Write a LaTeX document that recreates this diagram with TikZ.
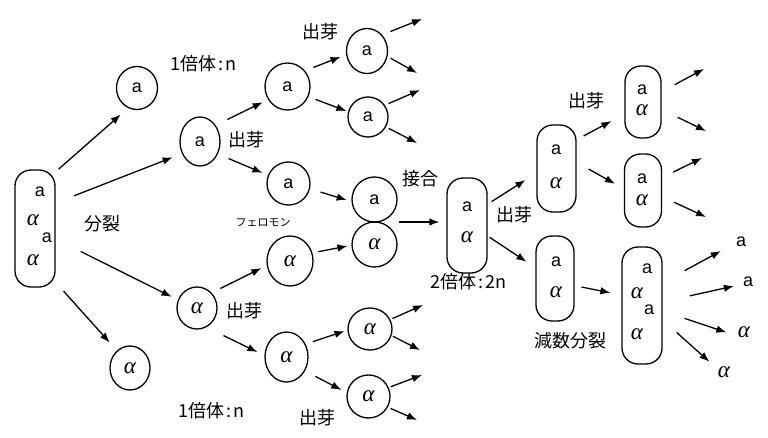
\documentclass[tikz,border=0pt]{standalone}
\usepackage{fontspec}
\setmainfont{Liberation Sans}
\newfontfamily\jp{Noto Sans CJK JP}
\newfontfamily\grk{Liberation Serif}
\newcommand{\alf}{{\grk\itshape\fontsize{23}{24}\selectfont α}}
\usetikzlibrary{arrows.meta,shapes.geometric,fit}
\begin{document}
\begin{tikzpicture}[x=1pt,y=-1pt,
  circ/.style={ellipse, draw, line width=1.3pt, inner sep=0pt, font=\fontsize{18}{20}\selectfont},
  pill/.style={rectangle, draw, line width=1.3pt, rounded corners=16pt, inner sep=0pt},
  sz/.style 2 args={minimum width=#1pt, minimum height=#2pt},
  lab/.style={inner sep=0pt, font=\jp\fontsize{18}{20}\selectfont},
  smalllab/.style={inner sep=0pt, font=\jp\fontsize{11}{12}\selectfont},
  ch/.style={inner sep=0pt, font=\fontsize{18}{20}\selectfont},
  arr/.style={-{Latex[length=10pt,width=7.5pt]}, line width=1.3pt},
]
\fill[white] (0,0) rectangle (768,438);
\useasboundingbox (0,0) rectangle (768,438);

% pills
\node[pill, sz={40}{117}] (L) at (35,228.5) {};
\node[ch] (L1) at (40,192) {a};
\node[ch] (L2) at (33,220.5) {\alf};
\node[ch] (L3) at (47,237.5) {a};
\node[ch] (L4) at (33,260) {\alf};

\node[pill, sz={40}{95}] (P2) at (467,225.5) {};
\node[ch] (P2a) at (467,207) {a};
\node[ch] (P2b) at (467,237) {\alf};

\node[pill, sz={39}{87}] (P3) at (556.5,168.5) {};
\node[ch] (P3a) at (556,150) {a};
\node[ch] (P3b) at (556,183) {\alf};

\node[pill, sz={38}{85}] (P4) at (555,278.5) {};
\node[ch] (P4a) at (556,262) {a};
\node[ch] (P4b) at (556,292) {\alf};

\node[pill, sz={36}{72}] (P5) at (643,102) {};
\node[ch] (P5a) at (642,89.5) {a};
\node[ch] (P5b) at (642,110.5) {\alf};

\node[pill, sz={37}{73}] (P6) at (643,190.5) {};
\node[ch] (P6a) at (642,179) {a};
\node[ch] (P6b) at (642,200) {\alf};

\node[pill, sz={40}{117}] (P7) at (642,305.5) {};
\node[ch] (P7a) at (647,269) {a};
\node[ch] (P7b) at (637,293) {\alf};
\node[ch] (P7c) at (649,310) {a};
\node[ch] (P7d) at (637,334) {\alf};

% circles
\node[circ, sz={41}{43}] (A1) at (137,88) {a};
\node[circ, sz={40}{49}] (A2) at (200,141.5) {a};
\node[circ, sz={45}{47}] (A3) at (287.5,86.5) {a};
\node[circ, sz={41}{45}] (A4) at (367,51) {a};
\node[circ, sz={40}{40}] (A5) at (368,117) {a};
\node[circ, sz={43}{43}] (A6) at (288.5,183.5) {a};
\node[circ, sz={45}{45}] (F1) at (374.5,199.5) {a};
\node[circ, sz={45}{45}] (F2) at (374.5,244.5) {\alf};
\node[circ, sz={40}{44}] (B1) at (130,368) {\alf};
\node[circ, sz={40}{42}] (B2) at (197,308) {\alf};
\node[circ, sz={46}{50}] (B3) at (290,261) {\alf};
\node[circ, sz={43}{50}] (B4) at (286.5,357) {\alf};
\node[circ, sz={44}{42}] (B5) at (370,329) {\alf};
\node[circ, sz={43}{43}] (B6) at (368.5,396.5) {\alf};
\node[fit=(F1)(F2), inner sep=0pt] (FP) {};

% output labels
\node[ch] (o1) at (741,242) {a};
\node[ch] (o2) at (748,282) {a};
\node[ch] (o3) at (744,332) {\alf};
\node[ch] (o4) at (724,372) {\alf};

% text labels
\node[lab] (T1) at (203,64) {1倍体\kern2pt:\kern2pt n};
\node[lab] (T2) at (320,32) {出芽};
\node[lab] (T3) at (246,139.5) {出芽};
\node[lab] (T4) at (102,224) {分裂};
\node[smalllab] (T5) at (263,223) {フェロモン};
\node[lab] (T6) at (420,179) {接合};
\node[lab] (T7) at (468,282) {2倍体\kern2pt:\kern2pt 2n};
\node[lab] (T8) at (514,214.5) {出芽};
\node[lab] (T9) at (586,101) {出芽};
\node[lab] (T10) at (570,341) {減数分裂};
\node[lab] (T11) at (244,311) {出芽};
\node[lab] (T12) at (211,411) {1倍体\kern2pt:\kern2pt n};
\node[lab] (T13) at (317,418) {出芽};

% free ends
\coordinate (e1) at (422,19);
\coordinate (e2) at (417,73);
\coordinate (e3) at (420,90);
\coordinate (e4) at (417,143);
\coordinate (e5) at (704,69);
\coordinate (e6) at (706,131);
\coordinate (e7) at (702,158);
\coordinate (e8) at (706,217);
\coordinate (e9) at (423,305);
\coordinate (e10) at (420,350);
\coordinate (e11) at (422,375);
\coordinate (e12) at (417,420);

% arrows
\draw[arr, shorten <=4pt, shorten >=9.8pt] (L.70) -- (A1.246);
\draw[arr, shorten <=20pt, shorten >=10pt] (L.51) -- (A2.214);
\draw[arr, shorten <=28pt, shorten >=7pt] (L.333) -- (B2.157);
\draw[arr, shorten <=12pt, shorten >=10.8pt] (L.291) -- (B1.127);

\draw[arr, shorten <=13pt, shorten >=6pt] (A2.46) -- (A3.214);
\draw[arr, shorten <=11.5pt, shorten >=6pt] (A2.325) -- (A6.158);
\draw[arr, shorten <=9pt, shorten >=6pt] (A3.42) -- (A4.190);
\draw[arr, shorten <=7.6pt, shorten >=1.8pt] (A3.334) -- (A5.165);
\draw[arr, shorten <=9pt] (A4.47) -- (e1);
\draw[arr, shorten <=3.5pt] (A4.345) -- (e2);
\draw[arr, shorten <=4pt] (A5.35) -- (e3);
\draw[arr, shorten <=3pt] (A5.331) -- (e4);
\draw[arr, shorten <=11pt, shorten >=5pt] (A6.346) -- (F1.185);

\draw[arr, shorten <=9.7pt, shorten >=6pt] (B2.46) -- (B3.191);
\draw[arr, shorten <=19pt, shorten >=7.8pt] (B2.296) -- (B4.176);
\draw[arr, shorten <=6pt, shorten >=4pt] (B3.20) -- (F2.182);
\draw[arr, shorten <=7.5pt, shorten >=3pt] (B4.34) -- (B5.183);
\draw[arr, shorten <=11.7pt, shorten >=6pt] (B4.323) -- (B6.170);
\draw[arr, shorten <=2.3pt] (B5.25) -- (e9);
\draw[arr, shorten <=1.5pt] (B5.343) -- (e10);
\draw[arr, shorten <=2pt] (B6.24) -- (e11);
\draw[arr, shorten <=3pt] (B6.331) -- (e12);

\draw[arr, shorten <=1pt, shorten >=7pt] (FP.east) -- (P2.west |- FP.east);
\draw[arr, shorten <=4.7pt, shorten >=13pt] (P2.46) -- (P3.193);
\draw[arr, shorten <=2.4pt, shorten >=10.8pt] (P2.333) -- (P4.151);
\draw[arr, shorten <=8pt, shorten >=14.8pt] (P3.55) -- (P5.213);
\draw[arr, shorten <=13.6pt, shorten >=10.2pt] (P3.17) -- (P6.175);
\draw[arr, shorten <=14.7pt] (P5.29) -- (e5);
\draw[arr, shorten <=17.8pt] (P5.338) -- (e6);
\draw[arr, shorten <=12.3pt] (P6.34) -- (e7);
\draw[arr, shorten <=13.2pt] (P6.342) -- (e8);
\draw[arr, shorten <=7pt, shorten >=11.2pt] (P4.340) -- (P7.153);
\draw[arr, shorten <=25pt, shorten >=17pt] (P7.48) -- (o1.190);
\draw[arr, shorten <=27.7pt, shorten >=9.2pt] (P7.10) -- (o2.202);
\draw[arr, shorten <=23pt, shorten >=12pt] (P7.345) -- (o3.214);
\draw[arr, shorten <=18.7pt, shorten >=11.3pt] (P7.325) -- (o4.156);
\end{tikzpicture}
\end{document}
